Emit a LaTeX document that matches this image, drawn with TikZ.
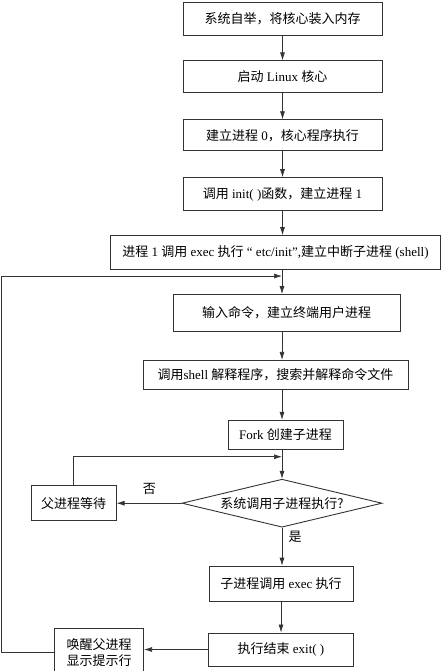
\documentclass[tikz,border=0pt]{standalone}
\usepackage{fontspec}
\setmainfont{Liberation Serif}
\newfontfamily\cjk{Noto Sans CJK SC}
\newcommand{\zh}[1]{{\cjk #1}}
\usetikzlibrary{positioning,shapes.geometric,arrows.meta}

\begin{document}
\begin{tikzpicture}[
  x=1pt, y=1pt,
  node distance=25pt,
  >={Latex[length=8pt,width=5pt]},
  draw=black!80, line width=0.7pt,
  box/.style={rectangle, draw, line width=0.9pt, inner sep=2pt, align=center, font=\fontsize{13}{15.5}\selectfont},
  decide/.style={diamond, draw, line width=0.9pt, inner sep=0pt, aspect=4.2, minimum width=200pt, minimum height=48pt, font=\fontsize{13}{15.5}\selectfont},
  lbl/.style={font=\fontsize{13}{15.5}\selectfont},
]
\useasboundingbox (0,0) rectangle (444,-671);
\node[box, minimum width=199pt, minimum height=33pt] (boot) at (282.5,-18.5) {\zh{系统自举，将核心装入内存}};
\node[box, minimum width=199pt, minimum height=32pt, below=25pt of boot] (kernel) {\zh{启动} Linux \zh{核心}};
\node[box, minimum width=199pt, minimum height=31pt, below=26pt of kernel] (proc0) {\zh{建立进程} 0\zh{，核心程序执行}};
\node[box, minimum width=199pt, minimum height=33pt, below=26pt of proc0] (init) {\zh{调用} init( )\zh{函数，建立进程} 1};
\node[box, minimum width=330pt, minimum height=34pt, below=24pt of init, xshift=-7pt] (shell) {\zh{进程} 1 \zh{调用} exec \zh{执行} “ etc/init”,\zh{建立中断子进程} (shell)};
\node[box, minimum width=227pt, minimum height=37pt, below=24pt of shell, xshift=11pt] (cmd) {\zh{输入命令，建立终端用户进程}};
\node[box, minimum width=265pt, minimum height=29pt, below=28pt of cmd, xshift=-11pt] (parse) {\zh{调用}shell \zh{解释程序，搜索并解释命令文件}};
\node[box, minimum width=115pt, minimum height=29pt, below=30pt of parse, xshift=10pt] (fork) {Fork \zh{创建子进程}};
\node[decide, below=29pt of fork, xshift=-3.5pt] (child) {\zh{系统调用子进程执行?}};
\node[box, minimum width=85pt, minimum height=35pt, left=65pt of child] (wait) {\zh{父进程等待}};
\node[box, minimum width=144pt, minimum height=35pt, below=38pt of child, xshift=-1pt] (exec) {\zh{子进程调用} exec \zh{执行}};
\node[box, minimum width=145pt, minimum height=33pt, below=31pt of exec] (exit) {\zh{执行结束} exit( )};
\node[box, minimum width=89pt, minimum height=49pt, left=64pt of exit, yshift=-3pt] (wake) {\zh{唤醒父进程}\\\zh{显示提示行}};
\node[lbl, above left=5pt and 22pt of child.west] (no) {\zh{否}};
\node[lbl, below right=0pt and 3pt of child.south] (yes) {\zh{是}};
\coordinate (back) at ([yshift=-6pt]shell.south -| child.north);
\coordinate (loop) at ([yshift=-7pt]fork.south -| child.north);
\draw[->] (boot) -- (kernel);
\draw[->] (kernel) -- (proc0);
\draw[->] (proc0) -- (init);
\draw[->] (init) -- (init |- shell.north);
\draw[->] (shell.south -| child.north) -- (child.north |- cmd.north);
\draw[->] (cmd.south -| child.north) -- (child.north |- parse.north);
\draw[->] (parse.south -| child.north) -- (child.north |- fork.north);
\draw[->] (fork.south -| child.north) -- (child);
\draw[->] (child) -- (wait);
\draw[->] (wait.north) |- (loop);
\draw[->] (child.south) -- (child.south |- exec.north);
\draw[->] (exec) -- (exec |- exit.north);
\draw[->] (exit.west) -- (exit.west -| wake.east);
\draw[->] (wake.west) -- ++(-53,0) |- (back);
\end{tikzpicture}
\end{document}
